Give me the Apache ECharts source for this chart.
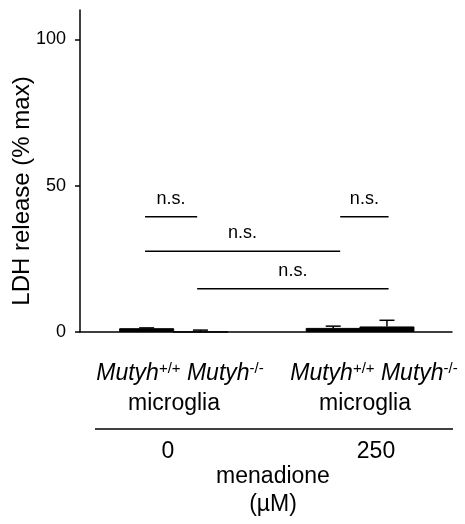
<!DOCTYPE html>
<html>
<head>
<meta charset="utf-8">
<script src="https://cdn.jsdelivr.net/npm/echarts@6/dist/echarts.min.js"></script>
<style>
html, body { margin: 0; padding: 0; background: #fff; }
#chart { width: 465px; height: 524px; }
</style>
</head>
<body>
<div id="chart"></div>
<script>
// data
const genotypes = ['+/+', '-/-', '+/+', '-/-'];
const doses = ['0', '250'];
const barX = [1, 2, 4.47, 5.47];
const ldhMean = [1.3, 0.05, 1.4, 1.9];
const ldhErr = [0.1, 0.6, 0.6, 2.1];
const yTicks = [0, 50, 100];
const yTitle = 'LDH release (% max)';

// significance brackets
const sigFrom = [0.97, 4.6, 0.97, 1.94];
const sigTo = [1.94, 5.5, 4.6, 5.5];
const sigY = [39.4, 39.4, 27.6, 14.8];
const sigLabel = ['n.s.', 'n.s.', 'n.s.', 'n.s.'];

const FONT = '"Liberation Sans", Arial, Helvetica, sans-serif';
const chart = echarts.init(document.getElementById('chart'));

function genoRich(a, b) {
  return '{i|Mutyh}{s|' + a + '} {i|Mutyh}{s|' + b + '}';
}
const richStyle = {
  i: { fontStyle: 'italic', fontSize: 23, fontFamily: FONT, lineHeight: 26, fill: '#000' },
  s: { fontSize: 15, fontFamily: FONT, lineHeight: 14, verticalAlign: 'top', fill: '#000' }
};
function label(text, x, y, extra) {
  return {
    type: 'text', x: x, y: y, silent: true,
    style: Object.assign({
      text: text, fill: '#000', font: '23px ' + FONT,
      align: 'center', verticalAlign: 'middle'
    }, extra || {})
  };
}

const option = {
  backgroundColor: '#fff',
  animation: false,
  grid: { left: 80, right: 13, top: 10, bottom: 192, containLabel: false, outerBoundsMode: 'none' },
  xAxis: {
    type: 'value',
    min: -0.24,
    max: 6.68,
    axisLine: { show: true, onZero: true, lineStyle: { color: '#000', width: 1.5 } },
    axisTick: { show: false },
    axisLabel: { show: false },
    splitLine: { show: false }
  },
  yAxis: {
    type: 'value',
    min: 0,
    max: 110,
    axisLine: { show: true, onZero: false, lineStyle: { color: '#000', width: 1.5 } },
    axisTick: { show: true, length: 5, customValues: yTicks, lineStyle: { color: '#000', width: 1.5 } },
    axisLabel: { customValues: yTicks, margin: 14, color: '#000', fontSize: 18, fontFamily: FONT },
    splitLine: { show: false }
  },
  series: [
    {
      type: 'bar',
      barWidth: 55,
      data: barX.map((x, i) => [x, ldhMean[i]]),
      itemStyle: { color: '#000', borderColor: '#000', borderWidth: 1 },
      z: 3
    },
    {
      type: 'custom',
      data: barX.map((x, i) => [x, ldhMean[i], ldhErr[i]]),
      renderItem: function (params, api) {
        const x = api.value(0), m = api.value(1), e = api.value(2);
        const p0 = api.coord([x, m]);
        const p1 = api.coord([x, m + e]);
        const st = { stroke: '#000', lineWidth: 1.5 };
        return {
          type: 'group',
          children: [
            { type: 'line', shape: { x1: p0[0], y1: p0[1], x2: p1[0], y2: p1[1] }, style: st },
            { type: 'line', shape: { x1: p1[0] - 7.5, y1: p1[1], x2: p1[0] + 7.5, y2: p1[1] }, style: st }
          ]
        };
      },
      z: 4
    },
    {
      type: 'custom',
      data: sigY.map((y, i) => [sigFrom[i], sigTo[i], y]),
      renderItem: function (params, api) {
        const a = api.coord([api.value(0), api.value(2)]);
        const b = api.coord([api.value(1), api.value(2)]);
        return {
          type: 'group',
          children: [
            { type: 'line', shape: { x1: a[0], y1: a[1], x2: b[0], y2: b[1] }, style: { stroke: '#000', lineWidth: 1.5 } },
            {
              type: 'text', x: (a[0] + b[0]) / 2, y: a[1] - 9,
              style: { text: sigLabel[params.dataIndex], fill: '#000', font: '18px ' + FONT, align: 'center', verticalAlign: 'bottom' }
            }
          ]
        };
      },
      z: 4
    }
  ],
  graphic: [
    Object.assign(label(yTitle, 22, 191, { font: '24px ' + FONT }), { rotation: Math.PI / 2 }),
    label(genoRich(genotypes[0], genotypes[1]), 180, 374, { rich: richStyle }),
    label(genoRich(genotypes[2], genotypes[3]), 374, 374, { rich: richStyle }),
    label('microglia', 174, 404),
    label('microglia', 365, 404),
    { type: 'line', silent: true, shape: { x1: 95, y1: 429, x2: 453, y2: 429 }, style: { stroke: '#000', lineWidth: 1.5 } },
    label(doses[0], 168, 452),
    label(doses[1], 376, 452),
    label('menadione', 273, 477),
    label('(\u00b5M)', 273, 505)
  ]
};
chart.setOption(option);
</script>
</body>
</html>
